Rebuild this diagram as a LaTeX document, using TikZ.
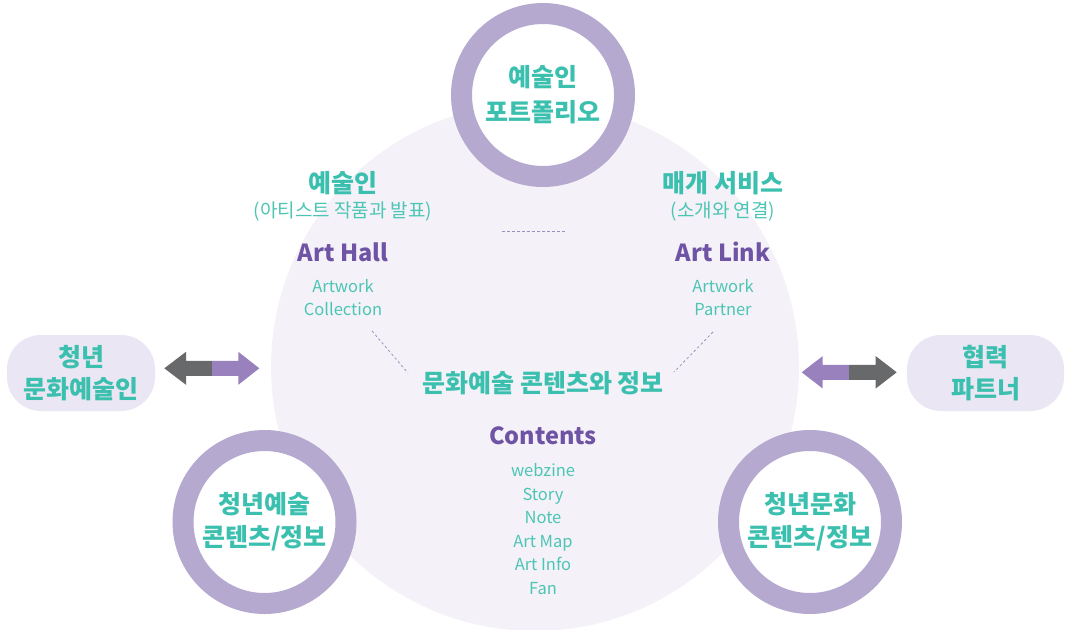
\documentclass[tikz,border=0pt]{standalone}
\usepackage{fontspec}
\setmainfont{Noto Sans CJK KR}
\usetikzlibrary{calc}
\definecolor{tealc}{HTML}{3BBFAE}
\definecolor{teallt}{HTML}{4CC5B5}
\definecolor{purc}{HTML}{6F53A4}
\definecolor{ringc}{HTML}{B6A9D0}
\definecolor{bgc}{HTML}{F4F2F8}
\definecolor{pillc}{HTML}{EAE6F3}
\definecolor{dashc}{HTML}{9A90C0}
\definecolor{arrgray}{HTML}{68696B}
\definecolor{arrpur}{HTML}{9881BC}
\tikzset{
  boldtxt/.style={font=\fontsize{25}{33}\selectfont\bfseries, text=tealc, align=center, inner sep=0pt},
  subtxt/.style={font=\fontsize{19}{23}\selectfont, text=teallt, align=center, inner sep=0pt},
  lattxt/.style={font=\fontsize{16.5}{23}\selectfont, text=teallt, align=center, inner sep=0pt},
  engtxt/.style={font=\fontsize{23.5}{30}\selectfont\bfseries, text=purc, inner sep=0pt},
  ringnode/.style={circle, draw=ringc, line width=21pt, fill=white, minimum size=163pt},
  pillnode/.style={fill=pillc, rounded corners=34pt, minimum height=76pt},
  dashline/.style={draw=dashc, line width=0.8pt, dash pattern=on 2.5pt off 2.5pt}
}
\begin{document}
\begin{tikzpicture}[x=1pt,y=-1pt]
\useasboundingbox (0,0) rectangle (1067,629);
% big background circle
\node[circle, fill=bgc, minimum size=528pt, inner sep=0pt] (bg) at (535,367) {};
% rings
\node[ringnode, boldtxt, font=\fontsize{25}{35}\selectfont\bfseries] (rtop) at (543,95) {예술인\\포트폴리오};
\node[ringnode, boldtxt] (rleft) at (264.5,522) {청년예술\\콘텐츠/정보};
\node[ringnode, boldtxt] (rright) at (810,522) {청년문화\\콘텐츠/정보};
% pills
\node[pillnode, minimum width=148pt, boldtxt, font=\fontsize{25}{32}\selectfont\bfseries] (lpill) at (81,373) {청년\\문화예술인};
\node[pillnode, minimum width=157pt, boldtxt, font=\fontsize{25}{32}\selectfont\bfseries] (rpill) at (985.5,373) {협력\\파트너};
% left column
\node[boldtxt] (h1) at (343,183) {예술인};
\node[subtxt] (s1) at (343,212) {(아티스트 작품과 발표)};
\node[engtxt] (e1) at (343,252) {Art Hall};
\node[lattxt] (l1) at (343,298) {Artwork\\Collection};
% right column
\node[boldtxt] (h2) at (723,183) {매개 서비스};
\node[subtxt] (s2) at (723,212) {(소개와 연결)};
\node[engtxt] (e2) at (723,252) {Art Link};
\node[lattxt] (l2) at (723,298) {Artwork\\Partner};
% centre column
\node[boldtxt] (h3) at (543,383) {문화예술 콘텐츠와 정보};
\node[engtxt] (e3) at (543,436) {Contents};
\node[lattxt, font=\fontsize{16.5}{23.6}\selectfont] (l3) at (543,529) {webzine\\Story\\Note\\Art Map\\Art Info\\Fan};
% dashed lines
\coordinate (dh1) at (502,231);
\coordinate (dh2) at (565,231);
\coordinate (dl1) at (372,331);
\coordinate (dl2) at (408,373);
\coordinate (dr1) at (713,332);
\coordinate (dr2) at (674,372);
\draw[dashline] (dh1) -- (dh2);
\draw[dashline] (dl1) -- (dl2);
\draw[dashline] (dr1) -- (dr2);
% left double arrow
\coordinate (la) at (164.3,368.3);
\fill[arrgray] (la) -- ++(21.7,-16.5) -- ++(0,9) -- ++(26.5,0) -- ++(0,15) -- ++(-26.5,0) -- ++(0,9) -- cycle;
\fill[arrpur] ($(la)+(47.7,-7.5)$) -- ++(26.3,0) -- ++(0,-9) -- ++(21,16.5) -- ++(-21,16.5) -- ++(0,-9) -- ++(-26.3,0) -- cycle;
% right double arrow
\coordinate (ra) at (801.7,372.3);
\fill[arrpur] (ra) -- ++(21,-16.2) -- ++(0,8.7) -- ++(26.5,0) -- ++(0,15) -- ++(-26.5,0) -- ++(0,8.7) -- cycle;
\fill[arrgray] ($(ra)+(47.3,-7.5)$) -- ++(26.7,0) -- ++(0,-8.7) -- ++(21,16.2) -- ++(-21,16.2) -- ++(0,-8.7) -- ++(-26.7,0) -- cycle;
\end{tikzpicture}
\end{document}
